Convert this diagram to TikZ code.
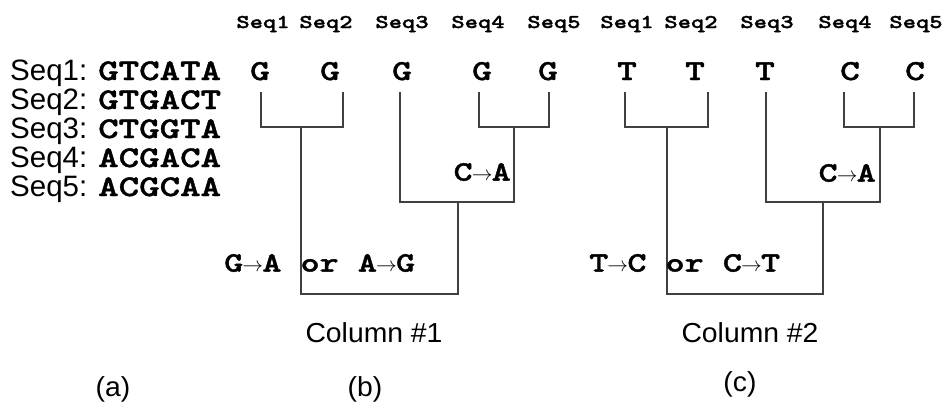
\documentclass[tikz,border=0pt]{standalone}
\usepackage{fontspec}
\setmainfont{Liberation Sans}
\newfontfamily\colsans[FakeStretch=1.03]{Liberation Sans}
\newfontfamily\courbold[FakeStretch=1.3,FakeBold=1.5]{lmmonolt10-bold.otf}
\newcommand\mutarrow{\makebox[0.68em]{$\scriptstyle\rightarrow$}}
\tikzset{
  hdr/.style={font=\courbold\fontsize{19.5}{19.5}\selectfont, inner sep=0pt, anchor=base},
  leaf/.style={font=\courbold\fontsize{29}{29}\selectfont, inner sep=0pt, anchor=base},
  mut/.style={font=\courbold\fontsize{28}{28}\selectfont, inner sep=0pt},
  seqlab/.style={font=\fontsize{29.5}{29.5}\selectfont, inner sep=0pt, anchor=base west},
  seqstr/.style={font=\courbold\fontsize{30}{30}\selectfont, inner sep=0pt, anchor=base west},
  caption/.style={font=\colsans\fontsize{27.5}{27.5}\selectfont, inner sep=0pt},
  tree/.style={line width=1.1pt, draw=black!75}
}
\begin{document}
\begin{tikzpicture}[x=1pt,y=-1pt]
\useasboundingbox (0,0) rectangle (946,418);
% (a) sequences
\foreach \i/\s/\y in {1/GTCATA/80,2/GTGACT/109,3/CTGGTA/138,4/ACGACA/167,5/ACGCAA/196}{
  \node[seqlab] (l\i) at (10,\y) {Seq\i:};
  \node[seqstr] (s\i) at (98,\y) {\s};
}
% (b) headers and leaves
\foreach \i/\x in {1/263,2/326,3/402,4/478,5/554}{
  \node[hdr] (hb\i) at (\x,28) {Seq\i};
}
\foreach \i/\x in {1/260,2/330,3/402,4/482,5/548}{
  \node[leaf] (b\i) at (\x,80) {G};
}
% (c) headers and leaves
\foreach \i/\x in {1/627,2/691,3/767,4/845,5/916}{
  \node[hdr] (hc\i) at (\x,28) {Seq\i};
}
\node[leaf] (c1) at (627,80) {T};
\node[leaf] (c2) at (695,80) {T};
\node[leaf] (c3) at (765,80) {T};
\node[leaf] (c4) at (850,80) {C};
\node[leaf] (c5) at (915,80) {C};
% tree (b)
\coordinate (bt1) at (261,92);
\coordinate (bt2) at (343,92);
\coordinate (bt3) at (400,92);
\coordinate (bt4) at (479,92);
\coordinate (bt5) at (549,92);
\coordinate (bj12) at (301,127);
\coordinate (bj45) at (514,127);
\coordinate (bj345) at (458,202);
\coordinate (broot) at (380,294);
\draw[tree] (bt1) |- (bj12) -| (bt2);
\draw[tree] (bt4) |- (bj45) -| (bt5);
\draw[tree] (bt3) |- (bj345) -| (bj45);
\draw[tree] (bj12) |- (broot) -| (bj345);
% tree (c)
\coordinate (ct1) at (625,92);
\coordinate (ct2) at (708,92);
\coordinate (ct3) at (766,92);
\coordinate (ct4) at (844,92);
\coordinate (ct5) at (914,92);
\coordinate (cj12) at (667,127);
\coordinate (cj45) at (880,127);
\coordinate (cj345) at (823,202);
\coordinate (croot) at (745,294);
\draw[tree] (ct1) |- (cj12) -| (ct2);
\draw[tree] (ct4) |- (cj45) -| (ct5);
\draw[tree] (ct3) |- (cj345) -| (cj45);
\draw[tree] (cj12) |- (croot) -| (cj345);
% mutation labels
\node[mut, anchor=east] (mb1) at (511,172) {C\mutarrow A};
\node[mut, anchor=west] (mb2) at (224,263) {G\mutarrow A or A\mutarrow G};
\node[mut, anchor=east] (mc1) at (876,173) {C\mutarrow A};
\node[mut, anchor=west] (mc2) at (589,263) {T\mutarrow C or C\mutarrow T};
% captions
\node[caption] (colb) at (374,333) {Column \#1};
\node[caption] (colc) at (750,333) {Column \#2};
\node[caption] (pa) at (113,389) {(a)};
\node[caption] (pb) at (365,389) {(b)};
\node[caption] (pc) at (740,384) {(c)};
\end{tikzpicture}
\end{document}
